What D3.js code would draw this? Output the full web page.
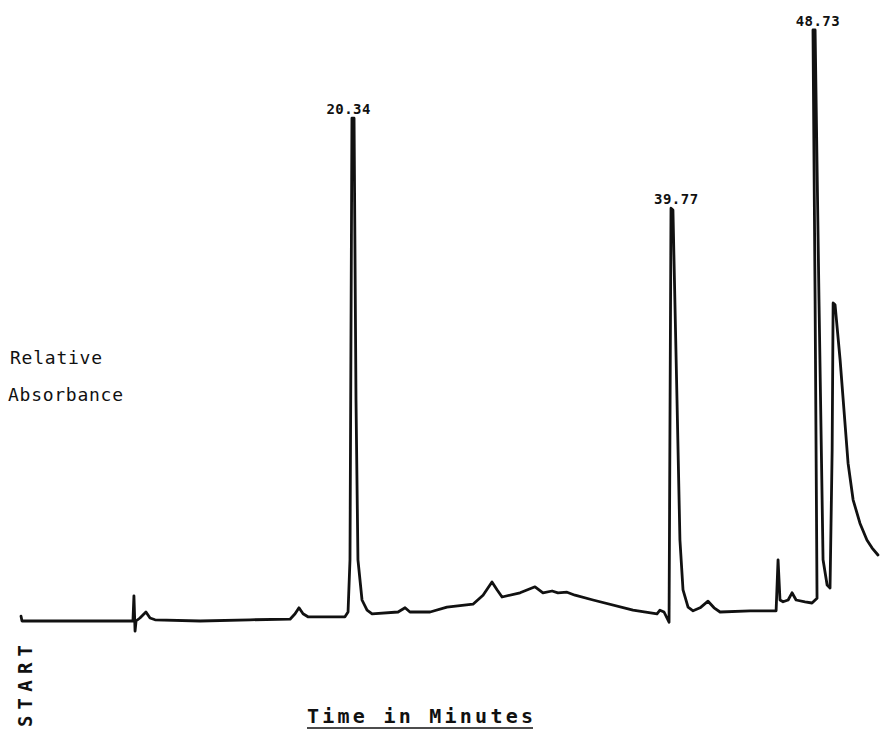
<!DOCTYPE html>
<html>
<head>
<meta charset="utf-8">
<script src="https://cdn.jsdelivr.net/npm/d3@7"></script>
<style>
  body { margin: 0; background: #fff; }
  svg { display: block; }
  .lbl { font-family: "DejaVu Sans Mono", monospace; fill: #111; }
</style>
</head>
<body>
<script>
// trace: time (min) and relative absorbance (0-100)
var times = [-0.06, 0.0, 2.34, 4.80, 6.65, 6.83, 6.89, 6.96, 7.02, 7.26, 7.63, 7.88, 8.19,
    10.96, 14.04, 16.50, 16.81, 17.05, 17.30, 17.60, 19.88, 20.07, 20.19, 20.31, 20.44,
    20.56, 20.68, 20.93, 21.24, 21.55, 23.15, 23.58, 23.88, 25.12, 26.16, 27.76, 28.38,
    28.93, 29.24, 29.55, 30.66, 31.58, 32.07, 32.63, 32.99, 33.55, 34.04, 35.15, 37.61,
    39.09, 39.27, 39.52, 39.83, 39.95, 40.07, 40.32, 40.50, 40.69, 41.00, 41.31, 41.74,
    42.23, 42.60, 42.97, 44.82, 46.42, 46.54, 46.66, 46.85, 47.16, 47.40, 47.65, 48.20,
    48.63, 48.94, 48.82, 48.69, 48.82, 49.06, 49.31, 49.56, 49.74, 49.87, 49.93, 50.05,
    50.36, 50.85, 51.16, 51.58, 52.01, 52.32, 52.69];
var absorbance = [0.8, 0, 0, 0, 0, 0, 4.2, -1.7, 0, 0.5, 1.5, 0.5, 0.2,
    0, 0.2, 0.3, 1.2, 2.2, 1.2, 0.7, 0.7, 1.5, 10.2, 83.8, 83.8,
    36.8, 10.2, 3.5, 1.8, 1.2, 1.5, 2.2, 1.5, 1.5, 2.3, 2.8, 4.3,
    6.5, 5.2, 4.0, 4.7, 5.7, 4.7, 5.0, 4.7, 4.8, 4.3, 3.5, 1.8,
    1.2, 1.8, 1.5, -0.2, 68.8, 68.5, 36.8, 13.5, 5.2, 2.3, 1.7, 2.2,
    3.3, 2.2, 1.5, 1.7, 1.7, 10.2, 3.5, 3.2, 3.5, 4.7, 3.5, 3.2,
    3.0, 3.8, 53.5, 98.5, 98.5, 53.5, 10.2, 6.0, 5.5, 28.5, 53.0, 52.7,
    43.5, 26.3, 20.2, 16.3, 13.5, 12.2, 11.0];

var peakLabels = ["20.34", "39.77", "48.73"];
var peakTimes = [20.34, 39.77, 48.73];
var peakTops = [83.8, 68.8, 98.5];

var width = 886, height = 730;

var svg = d3.select("body").append("svg")
    .attr("width", width)
    .attr("height", height);

var x = d3.scaleLinear().domain([0, 53]).range([22, 883]);
var y = d3.scaleLinear().domain([0, 100]).range([621, 21]);

var points = times.map(function(t, i) { return [t, absorbance[i]]; });

var line = d3.line()
    .x(function(d) { return x(d[0]); })
    .y(function(d) { return y(d[1]); });

svg.append("path")
    .datum(points)
    .attr("d", line)
    .attr("fill", "none")
    .attr("stroke", "#111")
    .attr("stroke-width", 2.8)
    .attr("stroke-linejoin", "round")
    .attr("stroke-linecap", "round");

// retention time labels above the peaks
var labelShift = [-4, 8, 4];
svg.selectAll(".peak-label")
    .data(peakLabels)
    .enter().append("text")
    .attr("class", "lbl peak-label")
    .attr("x", function(d, i) { return x(peakTimes[i]) + labelShift[i]; })
    .attr("y", function(d, i) { return y(peakTops[i]) - 4; })
    .attr("text-anchor", "middle")
    .attr("font-size", 14)
    .attr("font-weight", "bold")
    .attr("textLength", 44)
    .text(function(d) { return d; });

// y label
svg.append("text")
    .attr("class", "lbl")
    .attr("x", 10).attr("y", 364)
    .attr("font-size", 18)
    .attr("textLength", 92)
    .text("Relative");
svg.append("text")
    .attr("class", "lbl")
    .attr("x", 8).attr("y", 401)
    .attr("font-size", 18)
    .attr("textLength", 115)
    .text("Absorbance");

// x label, underlined
svg.append("text")
    .attr("class", "lbl")
    .attr("x", 307).attr("y", 723)
    .attr("font-size", 20)
    .attr("font-weight", "bold")
    .attr("textLength", 226)
    .text("Time in Minutes");
svg.append("line")
    .attr("x1", 307).attr("x2", 533)
    .attr("y1", 728).attr("y2", 728)
    .attr("stroke", "#111")
    .attr("stroke-width", 1.5);

// injection mark
svg.append("text")
    .attr("class", "lbl")
    .attr("transform", "translate(32,727) rotate(-90)")
    .attr("font-size", 19)
    .attr("font-weight", "bold")
    .attr("textLength", 82)
    .text("START");
</script>
</body>
</html>
